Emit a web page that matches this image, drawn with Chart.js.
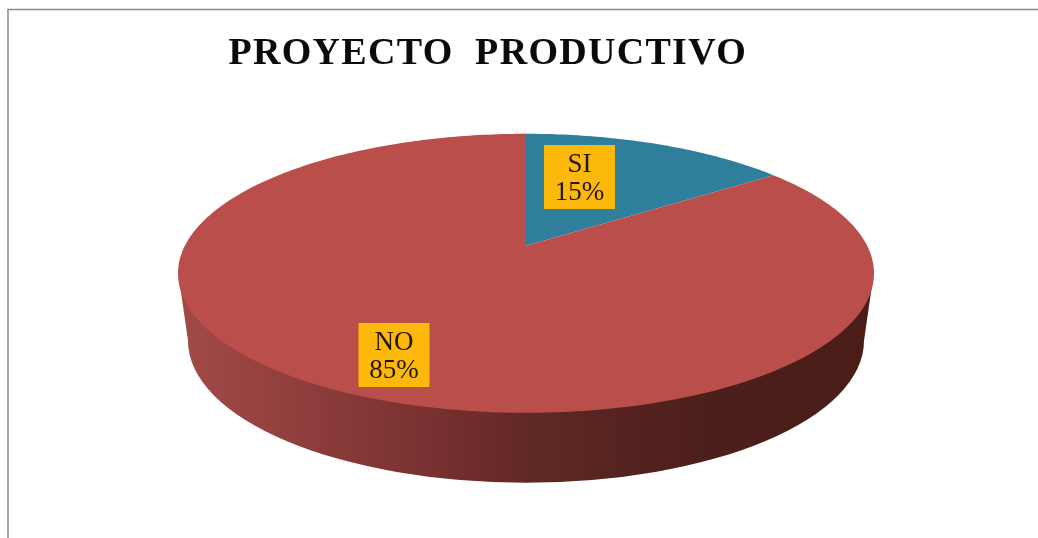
<!DOCTYPE html>
<html>
<head>
<meta charset="utf-8">
<title>Proyecto productivo</title>
<script src="https://cdn.jsdelivr.net/npm/chart.js@4"></script>
<style>
  html, body { margin: 0; padding: 0; background: #fff; overflow: hidden; }
  canvas { display: block; }
</style>
</head>
<body>
<canvas id="pie" width="1038" height="538"></canvas>
<script>
// Chart data
const categories = ['SI', 'NO'];
const values = [15, 85];
const sliceColors = ['#2F7F9C', '#B94E4B'];
const titleText = 'PROYECTO  PRODUCTIVO';

// Look of the tilted pie (pixels)
const top3d = { rx: 348, ry: 139.5, apexShift: -27.5 };
const bottom3d = { rx: 338, ry: 142, dy: 67.5 };
const labelCenters = [[579.5, 177], [394, 355]];

// perspective: unit circle point -> pixel on the top face
function project(arc, u, v) {
  const k = 2 * top3d.apexShift / (2 * top3d.ry);
  const c = top3d.rx * Math.sqrt(1 - k * k);
  const d = 1 + k * v;
  return [arc.x + c * u / d, arc.y + (top3d.ry * v + top3d.apexShift) / d];
}

const pie3d = {
  id: 'pie3d',
  afterLayout(chart) {
    // title sits left of the pie centre
    chart.titleBlock.left = -62.5;
  },
  beforeDraw(chart) {
    const ctx = chart.ctx;
    ctx.save();
    ctx.fillStyle = '#fff';
    ctx.fillRect(0, 0, chart.width, chart.height);
    ctx.strokeStyle = '#8a8a8a';
    ctx.lineWidth = 1.5;
    ctx.beginPath();
    ctx.moveTo(8, chart.height);
    ctx.lineTo(8, 9.5);
    ctx.lineTo(chart.width, 9.5);
    ctx.stroke();
    ctx.restore();
    // wide title lettering
    ctx.letterSpacing = '1.3px';
  },
  beforeDatasetsDraw(chart) {
    const ctx = chart.ctx;
    ctx.letterSpacing = '0px';
    const arcs = chart.getDatasetMeta(0).data;
    const cx = arcs[0].x, cy = arcs[0].y;

    // side wall
    const wall = ctx.createLinearGradient(cx - bottom3d.rx, 0, cx + bottom3d.rx, 0);
    wall.addColorStop(0, '#A04A47');
    wall.addColorStop(0.17, '#8F3E3C');
    wall.addColorStop(0.4, '#722E2D');
    wall.addColorStop(0.52, '#5E2825');
    wall.addColorStop(0.76, '#4D1F1B');
    wall.addColorStop(1, '#4A1D19');
    ctx.save();
    ctx.fillStyle = wall;
    ctx.beginPath();
    ctx.moveTo(cx - top3d.rx + 1, cy + 5);
    ctx.ellipse(cx, cy + bottom3d.dy, bottom3d.rx, bottom3d.ry, 0, Math.PI, 0, true);
    ctx.lineTo(cx + top3d.rx - 1, cy + 5);
    ctx.closePath();
    ctx.fill();

    // top face, angles come from the arc elements
    arcs.forEach((arc, i) => {
      const p = arc.getProps(['x', 'y', 'startAngle', 'endAngle'], false);
      const n = Math.max(4, Math.ceil((p.endAngle - p.startAngle) * 60));
      ctx.fillStyle = sliceColors[i];
      ctx.beginPath();
      const apex = project(p, 0, 0);
      ctx.moveTo(apex[0], apex[1]);
      for (let j = 0; j <= n; j++) {
        const a = p.startAngle + (p.endAngle - p.startAngle) * j / n;
        const pt = project(p, Math.cos(a), Math.sin(a));
        ctx.lineTo(pt[0], pt[1]);
      }
      ctx.closePath();
      ctx.fill();
    });

    // data labels
    const total = values.reduce((s, x) => s + x, 0);
    ctx.font = '27px "Liberation Serif"';
    ctx.textAlign = 'center';
    ctx.textBaseline = 'alphabetic';
    categories.forEach((name, i) => {
      const lx = labelCenters[i][0], ly = labelCenters[i][1];
      ctx.fillStyle = '#FDB90B';
      ctx.fillRect(lx - 35.5, ly - 32, 71, 64);
      ctx.fillStyle = '#20160a';
      ctx.fillText(name, lx, ly - 5);
      ctx.fillText(Math.round(values[i] / total * 100) + '%', lx, ly + 23);
    });
    ctx.restore();
    return false;
  }
};

new Chart(document.getElementById('pie'), {
  type: 'pie',
  data: {
    labels: categories,
    datasets: [{ data: values, backgroundColor: sliceColors, borderWidth: 0 }]
  },
  options: {
    responsive: false,
    animation: false,
    layout: { padding: { left: 14, bottom: 88 } },
    plugins: {
      legend: { display: false },
      tooltip: { enabled: false },
      title: {
        display: true,
        text: titleText,
        color: '#0a0a0a',
        font: { family: '"Liberation Serif"', size: 38, weight: 'bold' },
        padding: { top: 31, bottom: 20 }
      }
    }
  },
  plugins: [pie3d]
});
</script>
</body>
</html>
